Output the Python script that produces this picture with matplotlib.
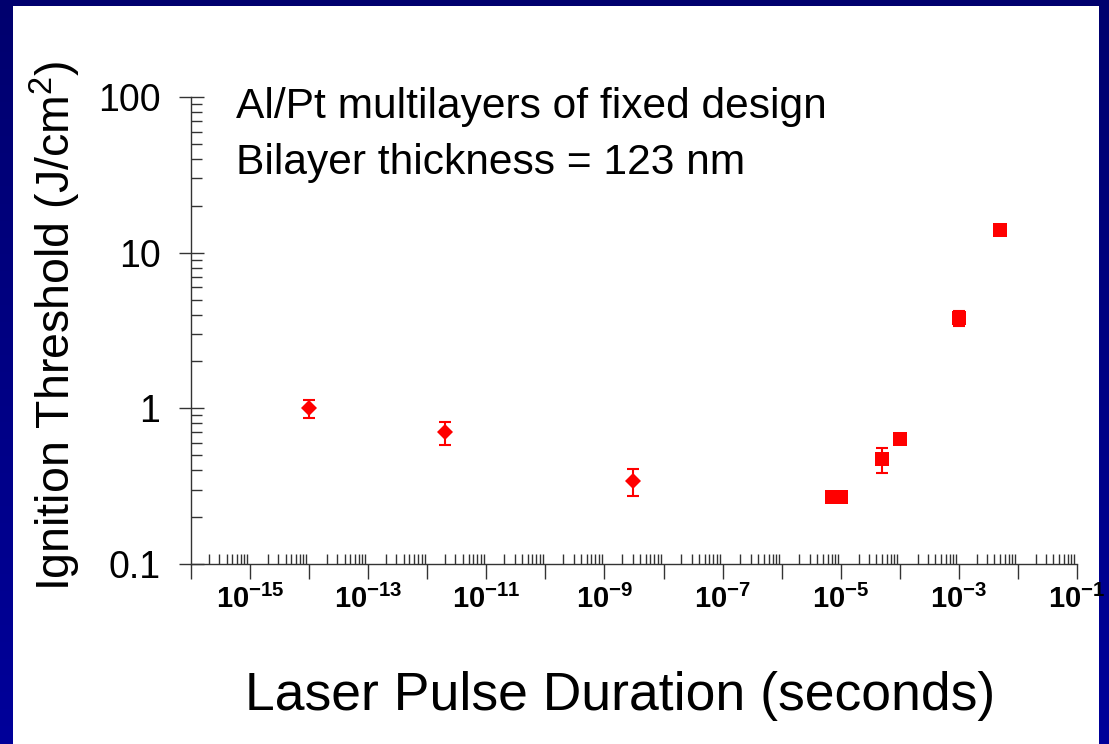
import matplotlib
matplotlib.use('Agg')
import matplotlib.pyplot as plt
import numpy as np
from matplotlib.colors import LinearSegmentedColormap
from matplotlib.patches import Rectangle
from matplotlib.ticker import FixedLocator, FuncFormatter, LogLocator, NullFormatter

plt.rcParams['font.family'] = ['Liberation Sans', 'DejaVu Sans']
plt.rcParams['mathtext.fontset'] = 'custom'
plt.rcParams['mathtext.rm'] = 'Liberation Sans'
plt.rcParams['mathtext.it'] = 'Liberation Sans:italic'
plt.rcParams['mathtext.bf'] = 'Liberation Sans:bold'

# fs / ps / ns pulses (diamonds)
short_pulse = [1e-14, 2e-12, 3e-9]
short_thresh = [1.0, 0.70, 0.34]
short_err = [0.13, 0.12, 0.065]

# us / ms pulses (squares)
long_pulse = [7e-6, 1e-5, 5e-5, 1e-4, 1e-3, 5e-3]
long_thresh = [0.27, 0.27, 0.47, 0.64, 3.8, 14.0]
long_err = [0, 0, 0.085, 0, 0.4, 0]

x_exponents = list(range(-16, 0))
x_label_exponents = [-15, -13, -11, -9, -7, -5, -3, -1]
y_ticks = [0.1, 1, 10, 100]
y_ticklabels = ['0.1', '1', '10', '100']

W, H = 1109, 744
fig = plt.figure(figsize=(W / 100, H / 100), dpi=100)

# slide background: navy gradient with a white panel on top
bg = fig.add_axes([0, 0, 1, 1], zorder=-2)
grad = np.linspace(0, 1, 256).reshape(-1, 1)
navy = LinearSegmentedColormap.from_list('navy', ['#00006e', '#00009a'])
bg.imshow(grad, aspect='auto', cmap=navy, extent=[0, 1, 0, 1], origin='upper')
bg.axis('off')
fig.add_artist(Rectangle((13 / W, 0), (1099 - 13) / W, (H - 6) / H,
                         transform=fig.transFigure, facecolor='white',
                         edgecolor='none', zorder=-1))

ax = fig.add_axes([191 / W, 180 / H, 886 / W, 467 / H])
ax.set_facecolor('none')
ax.set_xscale('log')
ax.set_yscale('log')
ax.set_xlim(1e-16, 1e-1)
ax.set_ylim(0.1, 100)

for s in ['top', 'right']:
    ax.spines[s].set_visible(False)
for s in ['left', 'bottom']:
    ax.spines[s].set_color('#333333')
    ax.spines[s].set_linewidth(1)


def xfmt(v, pos):
    e = int(round(np.log10(v)))
    if e in x_label_exponents:
        return r'$\mathbf{10^{%d}}$' % e
    return ''


ax.xaxis.set_major_locator(FixedLocator([10.0 ** e for e in x_exponents]))
ax.xaxis.set_major_formatter(FuncFormatter(xfmt))
ax.xaxis.set_minor_locator(LogLocator(base=10, subs=np.arange(2, 10), numticks=100))
ax.xaxis.set_minor_formatter(NullFormatter())

ax.yaxis.set_major_locator(FixedLocator(y_ticks))
ax.set_yticklabels(y_ticklabels)
ax.yaxis.set_minor_locator(LogLocator(base=10, subs=np.arange(2, 10), numticks=100))
ax.yaxis.set_minor_formatter(NullFormatter())

ax.tick_params(axis='x', which='major', direction='out', length=11, width=1,
               color='#333333', pad=4, labelsize=21)
ax.tick_params(axis='x', which='minor', direction='in', length=7.5, width=1,
               color='#333333')
ax.tick_params(axis='y', which='major', direction='inout', length=18, width=1,
               color='#333333', pad=13, labelsize=27)
ax.tick_params(axis='y', which='minor', direction='in', length=8, width=1,
               color='#333333')

ax.errorbar(short_pulse, short_thresh, yerr=short_err, fmt='none', ecolor='red',
            elinewidth=1.5, capsize=4, capthick=1.5, clip_on=False)
ax.plot(short_pulse, short_thresh, 'D', color='red', ms=8.5, mew=0, zorder=3,
        clip_on=False)
ax.errorbar(long_pulse, long_thresh, yerr=long_err, fmt='none', ecolor='red',
            elinewidth=1.5, capsize=4.5, capthick=1.5, clip_on=False)
ax.plot(long_pulse, long_thresh, 's', color='red', ms=10, mew=0, zorder=3,
        clip_on=False)

fig.text(236 / W, 1 - 118 / H, 'Al/Pt multilayers of fixed design',
         fontsize=30.6, va='baseline')
fig.text(236 / W, 1 - 174 / H, 'Bilayer thickness = 123 nm',
         fontsize=30.6, va='baseline')
fig.text(620 / W, 1 - 710 / H, 'Laser Pulse Duration (seconds)',
         fontsize=38.5, ha='center', va='baseline')
fig.text(55 / W, 1 - 326 / H, r'Ignition Threshold (J/cm$^2$)',
         fontsize=33.5, rotation=90, ha='center', va='center')

fig.savefig('out.png', dpi=100)
